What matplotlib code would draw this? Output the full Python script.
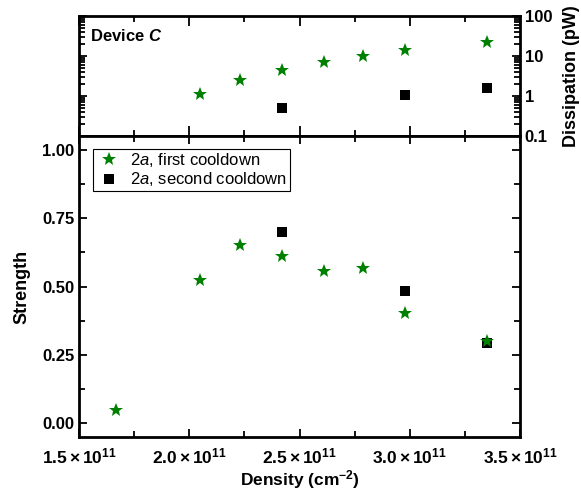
#Device C: strength and dissipation versus density
import numpy as np
import matplotlib
matplotlib.use('Agg')
import matplotlib.pyplot as plt
from matplotlib.ticker import MultipleLocator, FuncFormatter, LogLocator, NullFormatter

plt.rcParams['font.family'] = 'Liberation Sans'
plt.rcParams['mathtext.fontset'] = 'custom'
plt.rcParams['mathtext.rm'] = 'Liberation Sans'
plt.rcParams['mathtext.it'] = 'Liberation Sans:italic'
plt.rcParams['mathtext.bf'] = 'Liberation Sans:bold'
plt.rcParams['mathtext.bfit'] = 'Liberation Sans:italic:bold'

#data (density in cm^-2)
dens_first = np.array([1.67, 2.05, 2.23, 2.42, 2.61, 2.79, 2.98, 3.35]) * 1e11
strength_first = [0.05, 0.525, 0.653, 0.613, 0.555, 0.569, 0.405, 0.30]
dens_second = np.array([2.42, 2.98, 3.35]) * 1e11
strength_second = [0.70, 0.482, 0.292]

dens_diss_first = np.array([2.05, 2.23, 2.42, 2.61, 2.79, 2.98, 3.35]) * 1e11
diss_first = [1.12, 2.5, 4.4, 7.0, 9.8, 13.8, 23.0]
diss_second = [0.5, 1.06, 1.58]

xticks = np.array([1.5, 2.0, 2.5, 3.0, 3.5]) * 1e11

fig = plt.figure(figsize=(5.81, 4.93), dpi=100)
ax_top = fig.add_axes([0.136, 0.7241, 0.759, 0.2434])
ax = fig.add_axes([0.136, 0.1136, 0.759, 0.6105])

green = '#008000'

#top panel: dissipation (log)
ax_top.plot(dens_diss_first, diss_first, '*', color=green, ms=10, mew=0)
ax_top.plot(dens_second, diss_second, 's', color='black', ms=7, mew=0)
ax_top.set_yscale('log')
ax_top.set_ylim(0.1, 100)
ax_top.yaxis.set_major_locator(LogLocator(base=10, numticks=10))
ax_top.yaxis.set_minor_locator(LogLocator(base=10, subs=np.arange(2, 10), numticks=10))
ax_top.yaxis.set_minor_formatter(NullFormatter())
ax_top.yaxis.set_major_formatter(FuncFormatter(lambda v, p: '%g' % v))
ax_top.yaxis.tick_right()
ax_top.yaxis.set_label_position('right')
ax_top.tick_params(axis='y', which='both', left=True, right=True, labelleft=False, labelright=True)
ax_top.set_ylabel('Dissipation (pW)', fontsize=13, fontweight='bold', labelpad=8)
ax_top.text(0.025, 0.83, r'Device $\mathbfit{C}$', transform=ax_top.transAxes,
            fontsize=12, fontweight='bold', va='center')

#bottom panel: strength
ax.plot(dens_first, strength_first, '*', color=green, ms=10, mew=0,
        label=r'2$\mathit{a}$, first cooldown')
ax.plot(dens_second, strength_second, 's', color='black', ms=7, mew=0, zorder=1,
        label=r'2$\mathit{a}$, second cooldown')
ax.set_ylim(-0.05, 1.05)
ax.yaxis.set_major_locator(MultipleLocator(0.25))
ax.yaxis.set_minor_locator(MultipleLocator(0.125))
ax.yaxis.set_major_formatter(FuncFormatter(lambda v, p: '%.2f' % v))
ax.tick_params(axis='y', which='both', left=True, right=True, labelright=False)
ax.set_ylabel('Strength', fontsize=13, fontweight='bold', labelpad=8)
ax.set_xlabel(r'$\mathbf{Density\ (cm^{-2})}$', fontsize=12.5, labelpad=1)

leg = ax.legend(loc='upper left', bbox_to_anchor=(0.02, 0.975), fontsize=12,
                frameon=True, fancybox=False, edgecolor='black', framealpha=1,
                handletextpad=0.5, borderpad=0.15, labelspacing=0.08, handlelength=1.6,
                borderaxespad=0.3)
leg.get_frame().set_linewidth(0.8)

def xfmt(v, p):
    return r'$\mathbf{%.1f\times10^{11}}$' % (v / 1e11)

for a in (ax_top, ax):
    a.set_xlim(1.5e11, 3.5e11)
    a.set_xticks(xticks)
    a.xaxis.set_minor_locator(MultipleLocator(0.25e11))
    a.tick_params(which='both', direction='in', top=True, bottom=True, width=1.3,
                  labelsize=12)
    a.tick_params(which='major', length=6)
    a.tick_params(which='minor', length=4)
    for s in a.spines.values():
        s.set_linewidth(2)
    for lab in a.get_yticklabels():
        lab.set_fontweight('bold')

ax_top.tick_params(axis='x', labelbottom=False)
ax_top.tick_params(axis='x', which='major', length=7)
ax.xaxis.set_major_formatter(FuncFormatter(xfmt))
ax.tick_params(axis='x', pad=7, labelsize=12.5)
for lab in ax_top.get_yticklabels():
    lab.set_fontweight('bold')

fig.savefig('out.png', dpi=100)
